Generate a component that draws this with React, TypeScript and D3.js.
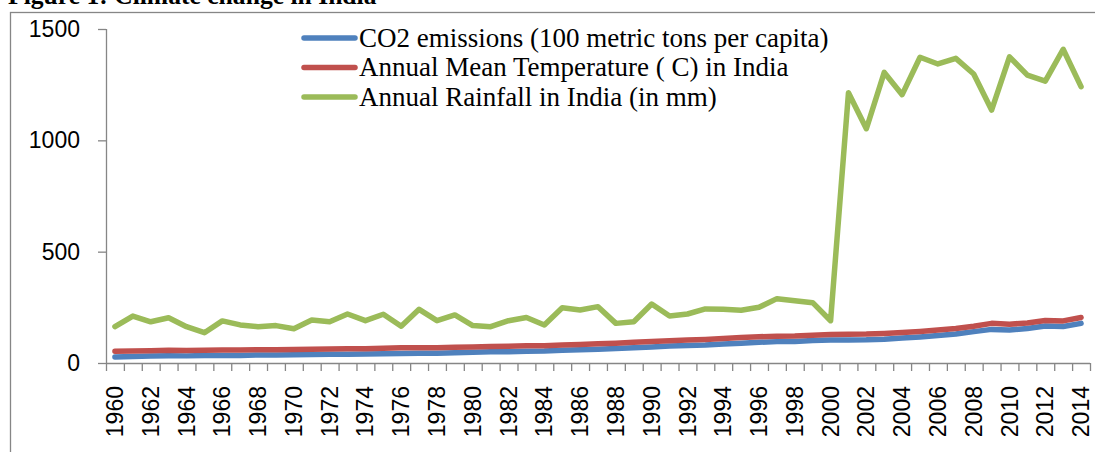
import React from "react";
import * as d3 from "d3";

const years: string[] = [];
for (let y = 1960; y <= 2014; y++) years.push(String(y));

const co2: number[] = [
  27, 29, 31, 33, 32, 34, 34, 34, 36, 36,
  37, 38, 39, 39, 40, 42, 43, 44, 44, 46,
  48, 50, 51, 53, 54, 57, 59, 62, 65, 69,
  72, 76, 79, 81, 85, 89, 93, 96, 97, 101,
  103, 103, 104, 107, 112, 117, 123, 130, 141, 151,
  148, 155, 166, 164, 178,
];

const temperature: number[] = [
  53, 54, 55, 57, 56, 57, 58, 58, 60, 60,
  61, 62, 63, 64, 64, 66, 68, 69, 69, 71,
  72, 74, 75, 77, 78, 81, 83, 86, 89, 93,
  97, 100, 103, 106, 110, 114, 118, 120, 121, 125,
  128, 129, 130, 133, 137, 142, 148, 155, 165, 178,
  174, 180, 191, 189, 204,
];

const rainfall: number[] = [
  163, 211, 185, 203, 163, 136, 189, 171, 163, 168,
  154, 193, 185, 220, 190, 219, 165, 241, 190, 216,
  168, 163, 190, 204, 171, 248, 238, 253, 178, 185,
  265, 211, 220, 243, 241, 237, 250, 289, 280, 271,
  190, 1214, 1052, 1305, 1205, 1373, 1343, 1368, 1298, 1136,
  1375, 1293, 1266, 1409, 1241,
];

const yTicks: number[] = [0, 500, 1000, 1500];

const seriesNames = [
  "CO2 emissions (100 metric tons per capita)",
  "Annual Mean Temperature ( C) in India",
  "Annual Rainfall in India (in mm)",
];
const seriesColors = ["#4F81BD", "#C0504D", "#9BBB59"];

export default function App() {
  const W = 1095, H = 452;
  const left = 106, right = 1090, top = 29, bottom = 363;
  const x = d3.scaleBand<string>().domain(years).range([left, right]);
  const y = d3.scaleLinear().domain([0, 1500]).range([bottom, top]);
  const line = d3
    .line<number>()
    .x((_, i) => (x(years[i]) as number) + x.bandwidth() / 2)
    .y((v) => y(v));
  const series = [co2, temperature, rainfall];
  const axisColor = "#868686";
  const sans = "'Liberation Sans', Arial, sans-serif";
  const serif = "'Liberation Serif', 'Times New Roman', serif";

  return (
    <svg
      width={W}
      height={H}
      style={{ position: "absolute", left: 0, top: 0, background: "#fff" }}
    >
      <rect x={0} y={0} width={W} height={H} fill="#fff" />
      <text x={8} y={4} fontFamily={serif} fontWeight="bold" fontSize={25.6} fill="#000">
        Figure 1: Climate change in India
      </text>
      <rect x={10.5} y={12.5} width={1300} height={700} fill="none" stroke={axisColor} strokeWidth={1.3} />

      {/* y axis */}
      <line x1={left + 0.5} x2={left + 0.5} y1={top} y2={bottom} stroke={axisColor} strokeWidth={1.3} />
      {yTicks.map((t) => (
        <g key={t}>
          <line x1={left - 8} x2={left} y1={y(t) + 0.5} y2={y(t) + 0.5} stroke={axisColor} strokeWidth={1.3} />
          <text x={80} y={y(t)} dy="0.35em" textAnchor="end" fontFamily={sans} fontSize={23} fill="#000">
            {t}
          </text>
        </g>
      ))}

      {/* x axis */}
      <line x1={left} x2={right} y1={bottom + 0.5} y2={bottom + 0.5} stroke={axisColor} strokeWidth={1.3} />
      {years.map((yr) => (
        <line
          key={"t" + yr}
          x1={(x(yr) as number) + 0.5}
          x2={(x(yr) as number) + 0.5}
          y1={bottom}
          y2={bottom + 8}
          stroke={axisColor}
          strokeWidth={1.3}
        />
      ))}
      <line x1={right + 0.5} x2={right + 0.5} y1={bottom} y2={bottom + 8} stroke={axisColor} strokeWidth={1.3} />
      {years.map((yr, i) =>
        i % 2 === 0 ? (
          <text
            key={"l" + yr}
            transform={`translate(${(x(yr) as number) + x.bandwidth() / 2},386) rotate(-90)`}
            dy="0.35em"
            textAnchor="end"
            fontFamily={sans}
            fontSize={23}
            fill="#000"
          >
            {yr}
          </text>
        ) : null
      )}

      {/* series */}
      {series.map((s, k) => (
        <path
          key={k}
          d={line(s) as string}
          fill="none"
          stroke={seriesColors[k]}
          strokeWidth={5.5}
          strokeLinejoin="round"
          strokeLinecap="round"
        />
      ))}

      {/* legend */}
      {seriesNames.map((n, k) => {
        const ly = 38 + k * 29.5;
        return (
          <g key={n}>
            <line x1={304} x2={355} y1={ly} y2={ly} stroke={seriesColors[k]} strokeWidth={5.5} strokeLinecap="round" />
            <text x={359} y={ly + 8.5} fontFamily={serif} fontSize={27} fill="#000">
              {n}
            </text>
          </g>
        );
      })}
    </svg>
  );
}
